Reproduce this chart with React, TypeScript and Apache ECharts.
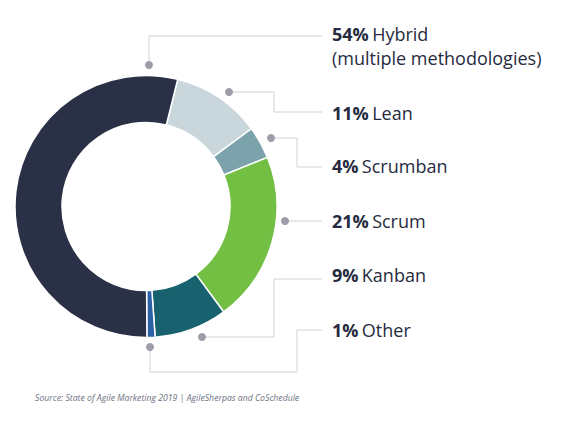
import { useEffect, useRef } from "react";
import * as echarts from "echarts";
import { ECharts } from "echarts";

// clockwise from the top, as in the reference
const categories = ["Lean", "Scrumban", "Scrum", "Kanban", "Other", "Hybrid"];
const shares = [11, 4, 21, 9, 1, 54];
const subLabels = ["", "", "", "", "", "(multiple methodologies)"];
const colors = ["#c9d7dc", "#7ca3ab", "#72bf44", "#17626e", "#2b5fa6", "#2a3046"];

// labels top to bottom on the right
const labelOrder = ["Hybrid", "Lean", "Scrumban", "Scrum", "Kanban", "Other"];
const labelY = [34, 113, 166, 221, 275, 330];

// leader lines: dot first, then the elbow points, ending next to the label
const leaders: number[][][] = [
  [[149, 65], [149, 36], [322, 36]],
  [[229, 92], [274, 92], [274, 112], [322, 112]],
  [[271, 138], [297, 138], [297, 167], [322, 167]],
  [[285, 221], [322, 221]],
  [[202, 337], [274, 337], [274, 279], [322, 279]],
  [[150, 347], [150, 372], [297, 372], [297, 330], [322, 330]],
];

const source = "Source: State of Agile Marketing 2019 | AgileSherpas and CoSchedule";

const FONT = "'Open Sans'";
const SIZE = 18;

const DonutChart = () => {
  const chartRef = useRef(null);
  let myChart: ECharts | null = null;

  useEffect(() => {
    document.body.style.margin = "0";
    if (chartRef.current) {
      myChart = echarts.init(chartRef.current, null, { renderer: "svg" });

      const graphics: any[] = [];
      leaders.forEach((pts) => {
        graphics.push({
          type: "polyline",
          shape: { points: pts },
          style: { stroke: "#cfd2d7", lineWidth: 1, fill: null },
          silent: true,
        });
        graphics.push({
          type: "circle",
          shape: { cx: pts[0][0], cy: pts[0][1], r: 4 },
          style: { fill: "#9d9ca9" },
          silent: true,
        });
      });
      labelOrder.forEach((name, i) => {
        const k = categories.indexOf(name);
        graphics.push({
          type: "text",
          x: 332,
          y: labelY[i],
          style: {
            text: `{b|${shares[k]}%} {r|${name}}`,
            verticalAlign: "middle",
            rich: {
              b: { fontFamily: FONT, fontWeight: "bold", fontSize: SIZE, fill: "#262b40" },
              r: { fontFamily: FONT, fontSize: SIZE, fill: "#262b40" },
            },
          },
        });
        if (subLabels[k]) {
          graphics.push({
            type: "text",
            x: 332,
            y: labelY[i] + 24,
            style: {
              text: subLabels[k],
              verticalAlign: "middle",
              fontFamily: FONT,
              fontSize: SIZE,
              fill: "#262b40",
            },
          });
        }
      });
      graphics.push({
        type: "text",
        x: 35,
        y: 398,
        style: {
          text: source,
          verticalAlign: "middle",
          fontFamily: FONT,
          fontStyle: "italic",
          fontSize: 8.7,
          fill: "#6e7283",
        },
      });

      myChart.setOption({
        animation: false,
        backgroundColor: "#ffffff",
        graphic: graphics,
        series: [
          {
            type: "pie",
            center: [146, 206.5],
            radius: [84, 131],
            startAngle: 76,
            clockwise: true,
            silent: true,
            label: { show: false },
            labelLine: { show: false },
            itemStyle: { borderColor: "#ffffff", borderWidth: 1.5 },
            data: categories.map((name, i) => ({
              name,
              value: shares[i],
              itemStyle: { color: colors[i] },
            })),
          },
        ],
      });
    }

    return () => {
      myChart && myChart.dispose();
    };
  }, []);

  return <div ref={chartRef} style={{ width: "570px", height: "423px" }}></div>;
};

export default DonutChart;
